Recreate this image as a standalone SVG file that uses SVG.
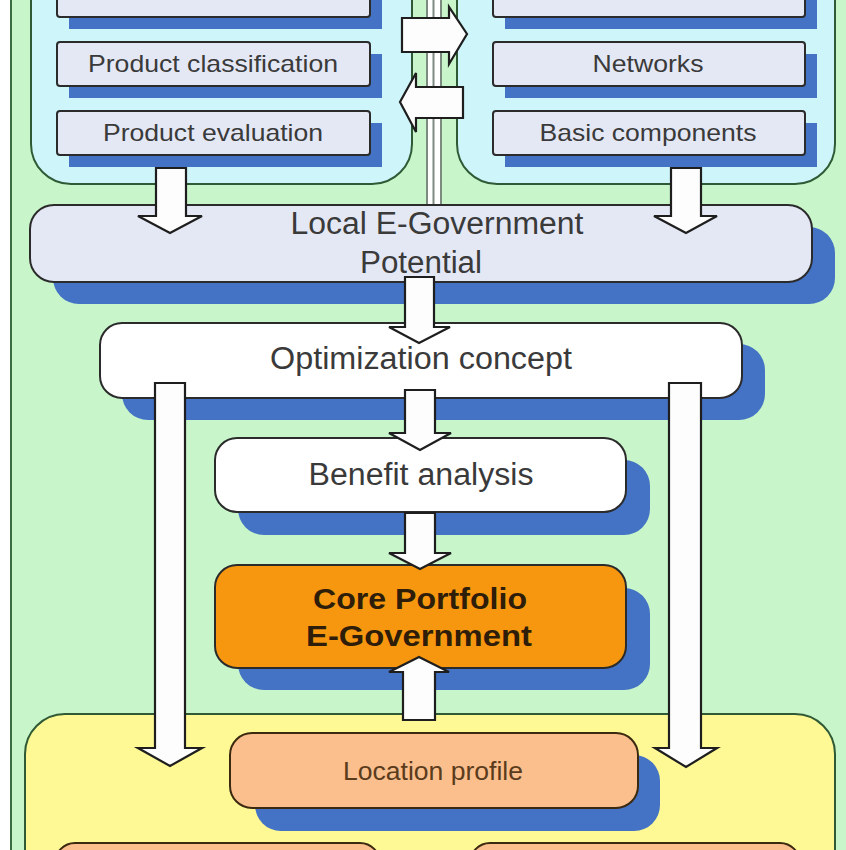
<svg xmlns="http://www.w3.org/2000/svg" width="846" height="850" viewBox="0 0 846 850">
  <style>
    .panel { stroke: #2f5a35; stroke-width: 2; }
    .box { stroke: #2b2b2b; stroke-width: 2; }
    .sub { fill: #e4e8f5; }
    .shadow { fill: #4472c4; }
    .arrow { fill: #fdfdfd; stroke: #1e1e1e; stroke-width: 2.2; stroke-linejoin: miter; }
    .lbl { font-family: "Liberation Sans", Arial, sans-serif; fill: #3a3a3a; text-anchor: middle; }
    .s { font-size: 24px; }
    .m { font-size: 31px; }
  </style>

  <!-- page background -->
  <rect x="0" y="0" width="846" height="850" fill="#ffffff"/>
  <rect x="11" y="-5" width="840" height="860" fill="#c8f6ca" stroke="#3d6b42" stroke-width="2"/>

  <!-- upper left and upper right groupings -->
  <g id="group-products">
    <rect class="panel" x="31" y="-60" width="381" height="244" rx="40" fill="#cdf5fa"/>
  </g>
  <g id="group-infrastructure">
    <rect class="panel" x="457" y="-60" width="378" height="244" rx="40" fill="#cdf5fa"/>
  </g>

  <!-- exchange channel between the groupings -->
  <g id="channel">
    <rect x="427" y="-5" width="14" height="211" fill="#ffffff" stroke="#7d8a80" stroke-width="2"/>
    <line x1="433.5" y1="-5" x2="433.5" y2="206" stroke="#7d8a80" stroke-width="2"/>
  </g>

  <!-- lower grouping -->
  <g id="group-location">
    <rect class="panel" x="25" y="714" width="810" height="200" rx="40" fill="#fff995"/>
  </g>

  <!-- product boxes -->
  <g id="product-top">
    <rect class="shadow" x="69" y="-15" width="313" height="44"/>
    <rect class="box sub" x="57" y="-27" width="313" height="44" rx="3"/>
  </g>
  <g id="product-classification">
    <rect class="shadow" x="69" y="54" width="313" height="44"/>
    <rect class="box sub" x="57" y="42" width="313" height="44" rx="3"/>
    <text class="lbl s" x="213" y="72" textLength="250" lengthAdjust="spacingAndGlyphs">Product classification</text>
  </g>
  <g id="product-evaluation">
    <rect class="shadow" x="69" y="123" width="313" height="44"/>
    <rect class="box sub" x="57" y="111" width="313" height="44" rx="3"/>
    <text class="lbl s" x="213" y="141" textLength="220" lengthAdjust="spacingAndGlyphs">Product evaluation</text>
  </g>

  <!-- infrastructure boxes -->
  <g id="infra-top">
    <rect class="shadow" x="505" y="-15" width="312" height="44"/>
    <rect class="box sub" x="493" y="-27" width="312" height="44" rx="3"/>
  </g>
  <g id="networks">
    <rect class="shadow" x="505" y="54" width="312" height="44"/>
    <rect class="box sub" x="493" y="42" width="312" height="44" rx="3"/>
    <text class="lbl s" x="648" y="72" textLength="111" lengthAdjust="spacingAndGlyphs">Networks</text>
  </g>
  <g id="basic-components">
    <rect class="shadow" x="505" y="123" width="312" height="44"/>
    <rect class="box sub" x="493" y="111" width="312" height="44" rx="3"/>
    <text class="lbl s" x="648" y="141" textLength="217" lengthAdjust="spacingAndGlyphs">Basic components</text>
  </g>

  <!-- central stages -->
  <g id="local-potential">
    <rect class="shadow" x="53" y="227" width="782" height="77" rx="26"/>
    <rect class="box sub" x="30" y="205" width="782" height="77" rx="24"/>
    <text class="lbl m" x="437" y="234" textLength="293" lengthAdjust="spacingAndGlyphs">Local E-Government</text>
    <text class="lbl m" x="421" y="273" textLength="122" lengthAdjust="spacingAndGlyphs">Potential</text>
  </g>
  <g id="optimization-concept">
    <rect class="shadow" x="122" y="344" width="643" height="76" rx="26"/>
    <rect class="box" x="100" y="323" width="642" height="75" rx="22" fill="#ffffff"/>
    <text class="lbl m" x="421" y="369" textLength="302" lengthAdjust="spacingAndGlyphs">Optimization concept</text>
  </g>
  <g id="benefit-analysis">
    <rect class="shadow" x="238" y="460" width="412" height="75" rx="26"/>
    <rect class="box" x="215" y="438" width="411" height="74" rx="22" fill="#ffffff"/>
    <text class="lbl m" x="421" y="485" textLength="225" lengthAdjust="spacingAndGlyphs">Benefit analysis</text>
  </g>
  <g id="core-portfolio">
    <rect class="shadow" x="238" y="588" width="412" height="102" rx="26"/>
    <rect class="box" x="215" y="565" width="411" height="103" rx="22" fill="#f7960f"/>
    <text class="lbl" x="420" y="609" font-size="29" font-weight="bold" style="fill:#2e1d08" textLength="214" lengthAdjust="spacingAndGlyphs">Core Portfolio</text>
    <text class="lbl" x="419" y="646" font-size="29" font-weight="bold" style="fill:#2e1d08" textLength="226" lengthAdjust="spacingAndGlyphs">E-Government</text>
  </g>
  <g id="location-profile">
    <rect class="shadow" x="255" y="755" width="405" height="76" rx="26"/>
    <rect class="box" x="230" y="733" width="408" height="75" rx="22" fill="#fbbf8d" style="stroke:#3b2a10"/>
    <text class="lbl" x="433" y="780" font-size="25" style="fill:#5a3b1c" textLength="180" lengthAdjust="spacingAndGlyphs">Location profile</text>
  </g>

  <!-- partial boxes at the lower edge -->
  <g id="location-left">
    <rect class="box" x="55" y="843" width="325" height="40" rx="20" fill="#fbbf8d" style="stroke:#3b2a10"/>
  </g>
  <g id="location-right">
    <rect class="box" x="470" y="843" width="330" height="40" rx="20" fill="#fbbf8d" style="stroke:#3b2a10"/>
  </g>

  <!-- block arrows -->
  <g id="connectors">
    <!-- exchange between groupings -->
    <path class="arrow" d="M402,18 H449 V7 L467,34 L449,64 V52 H402 Z"/>
    <path class="arrow" d="M463,87 H416 V73 L400,102 L416,132 V118 H463 Z"/>
    <!-- groupings into potential -->
    <path class="arrow" d="M156,168 H186 V216 H202 L170,233 L138,216 H156 Z"/>
    <path class="arrow" d="M671,168 H701 V216 H717 L686,233 L654,216 H671 Z"/>
    <!-- potential to optimization -->
    <path class="arrow" d="M405,277 H434 V327 H450 L419,343 L389,327 H405 Z"/>
    <!-- optimization to benefit -->
    <path class="arrow" d="M405,390 H435 V433 H451 L420,450 L389,433 H405 Z"/>
    <!-- benefit to core portfolio -->
    <path class="arrow" d="M405,513 H435 V553 H451 L420,569 L389,553 H405 Z"/>
    <!-- location profile up to core portfolio -->
    <path class="arrow" d="M403,720 H435 V672 H449 L419,657 L389,672 H403 Z"/>
    <!-- optimization down to location grouping -->
    <path class="arrow" d="M155,383 H185 V748 H202 L170,766 L138,748 H155 Z"/>
    <path class="arrow" d="M669,383 H701 V748 H717 L686,767 L655,748 H669 Z"/>
  </g>
</svg>
